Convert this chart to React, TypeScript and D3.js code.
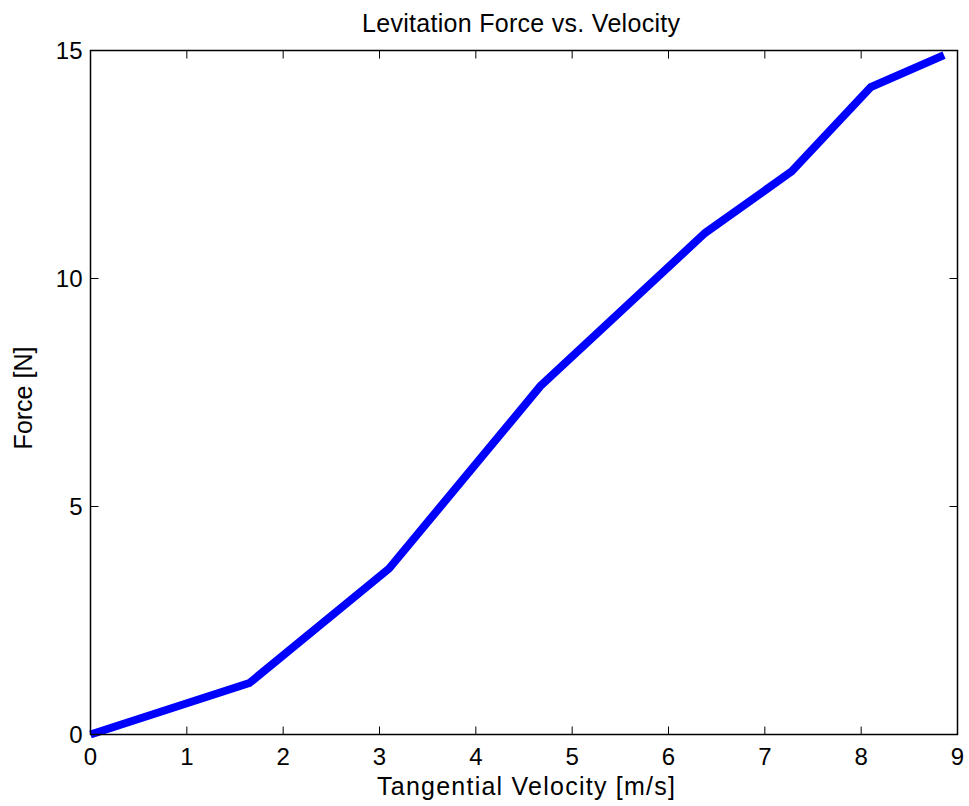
import React from "react";
import * as d3 from "d3";

const velocity = [0, 1.65, 3.1, 4.67, 6.38, 7.28, 8.1, 8.86];
const force = [0, 1.13, 3.64, 7.64, 11.0, 12.35, 14.2, 14.9];
const xTicks = [0, 1, 2, 3, 4, 5, 6, 7, 8, 9];
const yTicks = [0, 5, 10, 15];
const title = "Levitation Force vs. Velocity";
const xLabel = "Tangential Velocity [m/s]";
const yLabel = "Force [N]";

export default function App() {
  const W = 969, H = 806;
  const left = 90.5, right = 957.5, top = 50.5, bottom = 734.5;
  const x = d3.scaleLinear().domain([0, 9]).range([left, right]);
  const y = d3.scaleLinear().domain([0, 15]).range([bottom, top]);
  const pts = velocity.map((v, i) => [v, force[i]] as [number, number]);
  const line = d3.line<[number, number]>().x(d => x(d[0])).y(d => y(d[1]));
  const font = "'Liberation Sans', Arial, sans-serif";
  const tl = 8;
  return (
    <svg width={W} height={H} style={{ position: "absolute", left: 0, top: 0, background: "#fff" }}>
      <rect x={0} y={0} width={W} height={H} fill="#fff" />
      <g stroke="#000" strokeWidth={1}>
        {xTicks.map(t => (
          <g key={"x" + t}>
            <line x1={x(t)} x2={x(t)} y1={bottom} y2={bottom - tl} />
            <line x1={x(t)} x2={x(t)} y1={top} y2={top + tl} />
          </g>
        ))}
        {yTicks.map(t => (
          <g key={"y" + t}>
            <line x1={left} x2={left + tl} y1={y(t)} y2={y(t)} />
            <line x1={right} x2={right - tl} y1={y(t)} y2={y(t)} />
          </g>
        ))}
      </g>
      <path d={line(pts) || ""} fill="none" stroke="#0000ff" strokeWidth={8} strokeLinejoin="miter" />
      <rect x={left} y={top} width={right - left} height={bottom - top} fill="none" stroke="#000" strokeWidth={1.5} />
      <g fontFamily={font} fill="#000">
        <g fontSize={24}>
          {xTicks.map(t => (
            <text key={"xl" + t} x={x(t)} y={765} textAnchor="middle">{t}</text>
          ))}
          {yTicks.map(t => (
            <text key={"yl" + t} x={left - 8} y={y(t) + 8} textAnchor="end">{t}</text>
          ))}
        </g>
        <g fontSize={25}>
          <text x={521} y={32} textAnchor="middle" textLength={318} lengthAdjust="spacing">{title}</text>
          <text x={526} y={795} textAnchor="middle" textLength={298} lengthAdjust="spacing">{xLabel}</text>
          <text transform={`translate(32, 398) rotate(-90)`} textAnchor="middle">{yLabel}</text>
        </g>
      </g>
    </svg>
  );
}
